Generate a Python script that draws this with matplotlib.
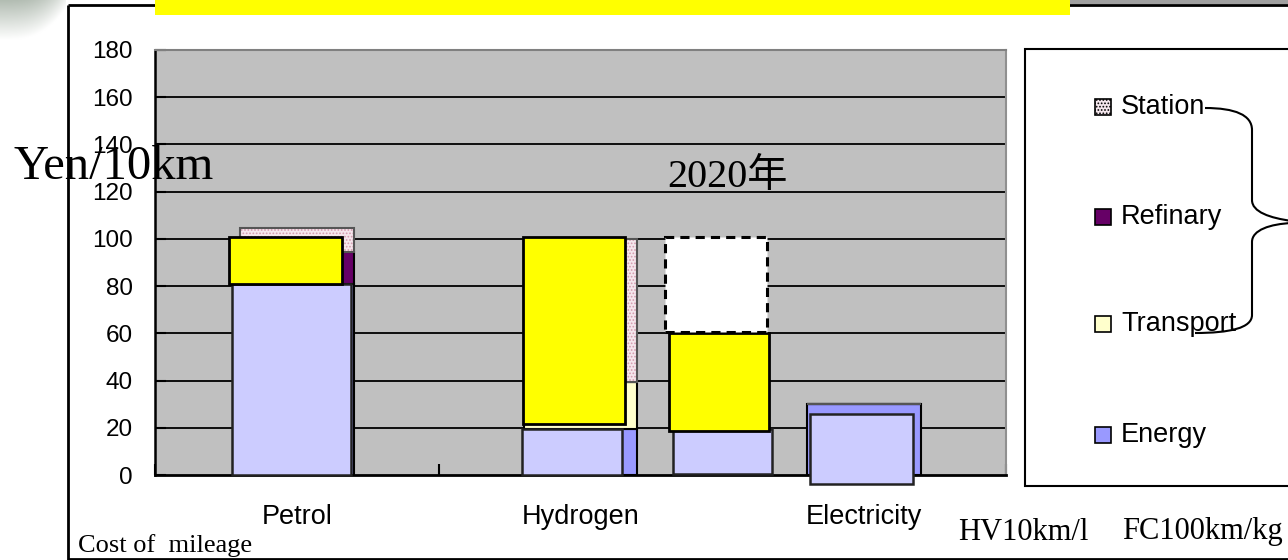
import numpy as np
import matplotlib
matplotlib.use('Agg')
import matplotlib.pyplot as plt
from matplotlib.patches import Rectangle, PathPatch
from matplotlib.path import Path

plt.rcParams['font.family'] = ['Liberation Sans', 'DejaVu Sans']
plt.rcParams['hatch.linewidth'] = 0.8

# data (yen per 10 km)
categories = ['Petrol', 'Hydrogen', 'Electricity']
energy = [81, 19.5, 30]
transport = [0, 20, 0]
refinary = [13.5, 0, 0]
station = [10, 60.5, 0]

# highlight boxes drawn over the stacks
energy_box_bottom = [0, 0, 0.5, -4]
energy_box_top = [81, 19.5, 19.5, 26]
cost_box_bottom = [81, 21.5, 18.5]
cost_box_top = [101, 101, 60]
future_box = [60.5, 101]   # dashed box, 2020

legend_labels = ['Station', 'Refinary', 'Transport', 'Energy']
yticks = list(range(0, 181, 20))

# colours
c_energy = '#9999FF'
c_energy_box = '#CCCCFF'
c_transport = '#FFFFCC'
c_refinary = '#660066'
c_station = '#F4E6EC'
c_cost = '#FFFF00'

W, H = 1288, 560
fig = plt.figure(figsize=(W / 100, H / 100), dpi=100)
fig.patch.set_facecolor('white')

# main chart
ax = fig.add_axes([155 / W, 85 / H, 851 / W, 425 / H])
ax.set_facecolor('#C0C0C0')
ax.set_xlim(-0.5, 2.5)
ax.set_ylim(0, 180)

x = np.arange(len(categories))
bw = 0.40
e = np.array(energy)
t = np.array(transport)
r = np.array(refinary)
s = np.array(station)

ax.bar(x, e, bw, color=c_energy, edgecolor='black', lw=1.5, zorder=3)
ax.bar(x, t, bw, bottom=e, color=c_transport, edgecolor='black', lw=1.5, zorder=3)
ax.bar(x, r, bw, bottom=e + t, color=c_refinary, edgecolor='black', lw=1.5, zorder=3)
ax.bar(x, s, bw, bottom=e + t + r, color=c_station, edgecolor='#D49AAE',
       hatch='.....', lw=0, zorder=3)
ax.bar(x, s, bw, bottom=e + t + r, fill=False, edgecolor='#555555', lw=1.5, zorder=3)

# overlay boxes
eb_x = [-0.02, 0.97, 1.50, 1.99]
eb_w = [0.42, 0.35, 0.35, 0.365]
eb_b = np.array(energy_box_bottom)
eb_h = np.array(energy_box_top) - eb_b
ax.bar(eb_x, eb_h, eb_w, bottom=eb_b, color=c_energy_box, edgecolor='#222222',
       lw=1.8, zorder=4, clip_on=False)

cb_x = [-0.04, 0.977, 1.487]
cb_w = [0.395, 0.357, 0.353]
cb_b = np.array(cost_box_bottom)
cb_h = np.array(cost_box_top) - cb_b
ax.bar(cb_x, cb_h, cb_w, bottom=cb_b, color=c_cost, edgecolor='black', lw=2, zorder=4)

ax.bar(1.478, future_box[1] - future_box[0], 0.357, bottom=future_box[0],
       color='white', edgecolor='black', lw=2.2, ls=(0, (3, 2)), zorder=4)

# grid / axes styling
for v in yticks[1:-1]:
    ax.axhline(v, color='black', lw=1.3, zorder=1)
ax.set_yticks(yticks)
ax.set_yticklabels([str(v) for v in yticks], fontsize=17.5)
ax.tick_params(axis='y', direction='in', length=8, width=1.5, pad=16)
ax.set_xticks(x)
ax.set_xticklabels(categories, fontsize=19.5)
ax.set_xticks([-0.5, 0.5, 1.5, 2.5], minor=True)
ax.tick_params(axis='x', which='major', length=0, pad=21)
ax.tick_params(axis='x', which='minor', direction='in', length=8, width=1.5)
ax.spines['left'].set_linewidth(1.8)
ax.spines['bottom'].set_linewidth(2)
ax.spines['top'].set_color('#808080')
ax.spines['top'].set_linewidth(1.5)
ax.spines['right'].set_color('#909090')
ax.spines['right'].set_linewidth(1.5)

# overlay in pixel coordinates for the slide decorations
ov = fig.add_axes([0, 0, 1, 1], zorder=5)
ov.set_xlim(0, W)
ov.set_ylim(H, 0)
ov.axis('off')
ov.patch.set_alpha(0)

# faded corner in the top left
gx, gy = np.meshgrid(np.linspace(0, 1, 64), np.linspace(0, 1, 64))
shade = np.clip(gy * 1.2 + gx ** 3 * 0.8, 0, 1)
rgb = np.dstack([0.70 + 0.30 * shade, 0.74 + 0.26 * shade, 0.70 + 0.30 * shade])
ov.imshow(rgb, extent=(0, 66, 48, 0), aspect='auto', zorder=0)

ov.plot([1070, W], [1.5, 1.5], color='#A0A0A0', lw=3, solid_capstyle='butt')
ov.plot([68, W], [5, 5], color='black', lw=2, solid_capstyle='butt')
ov.plot([68, 68], [5, H], color='black', lw=2, solid_capstyle='butt')
ov.plot([68, W], [558.5, 558.5], color='black', lw=2, solid_capstyle='butt')
ov.add_patch(Rectangle((155, 0), 915, 15, color=c_cost, lw=0, zorder=3))

# legend box
ov.add_patch(Rectangle((1025, 49), 300, 437, facecolor='white', edgecolor='black', lw=1.5))
leg_colors = [c_station, c_refinary, c_transport, c_energy]
leg_y = [107, 217, 324, 435]
for lab, col, yy in zip(legend_labels, leg_colors, leg_y):
    hatch = '.....' if lab == 'Station' else None
    ov.add_patch(Rectangle((1095, yy - 8), 16, 16, facecolor=col, edgecolor='black',
                           lw=1.2, hatch=hatch))
    ov.text(1121, yy, lab, fontsize=19.5, va='center', ha='left')

# brace grouping station, refinary, transport
verts = [(1205, 108), (1235, 108), (1252, 115), (1252, 130),
         (1252, 200),
         (1252, 212), (1270, 218), (1292, 221),
         (1292, 223), (1270, 224), (1252, 230), (1252, 242),
         (1252, 315),
         (1252, 328), (1230, 333), (1195, 333)]
codes = [Path.MOVETO, Path.CURVE4, Path.CURVE4, Path.CURVE4,
         Path.LINETO,
         Path.CURVE4, Path.CURVE4, Path.CURVE4,
         Path.MOVETO, Path.CURVE4, Path.CURVE4, Path.CURVE4,
         Path.LINETO,
         Path.CURVE4, Path.CURVE4, Path.CURVE4]
ov.add_patch(PathPatch(Path(verts, codes), fill=False, lw=1.5, edgecolor='black'))

serif = ['Liberation Serif', 'DejaVu Serif']
ov.text(14, 167, 'Yen/10km', fontsize=35, family=serif, va='center', ha='left')
ov.text(728, 177, '2020年', fontsize=29, family=['Liberation Serif', 'Noto Sans CJK JP'],
        va='center', ha='center')
ov.text(78, 546, 'Cost of  mileage', fontsize=19, family=serif, va='center', ha='left')
ov.text(958, 532, 'HV10km/l', fontsize=22, family=serif, va='center', ha='left')
ov.text(1122, 532, 'FC100km/kg', fontsize=22, family=serif, va='center', ha='left')

fig.savefig('out.png', dpi=100)
